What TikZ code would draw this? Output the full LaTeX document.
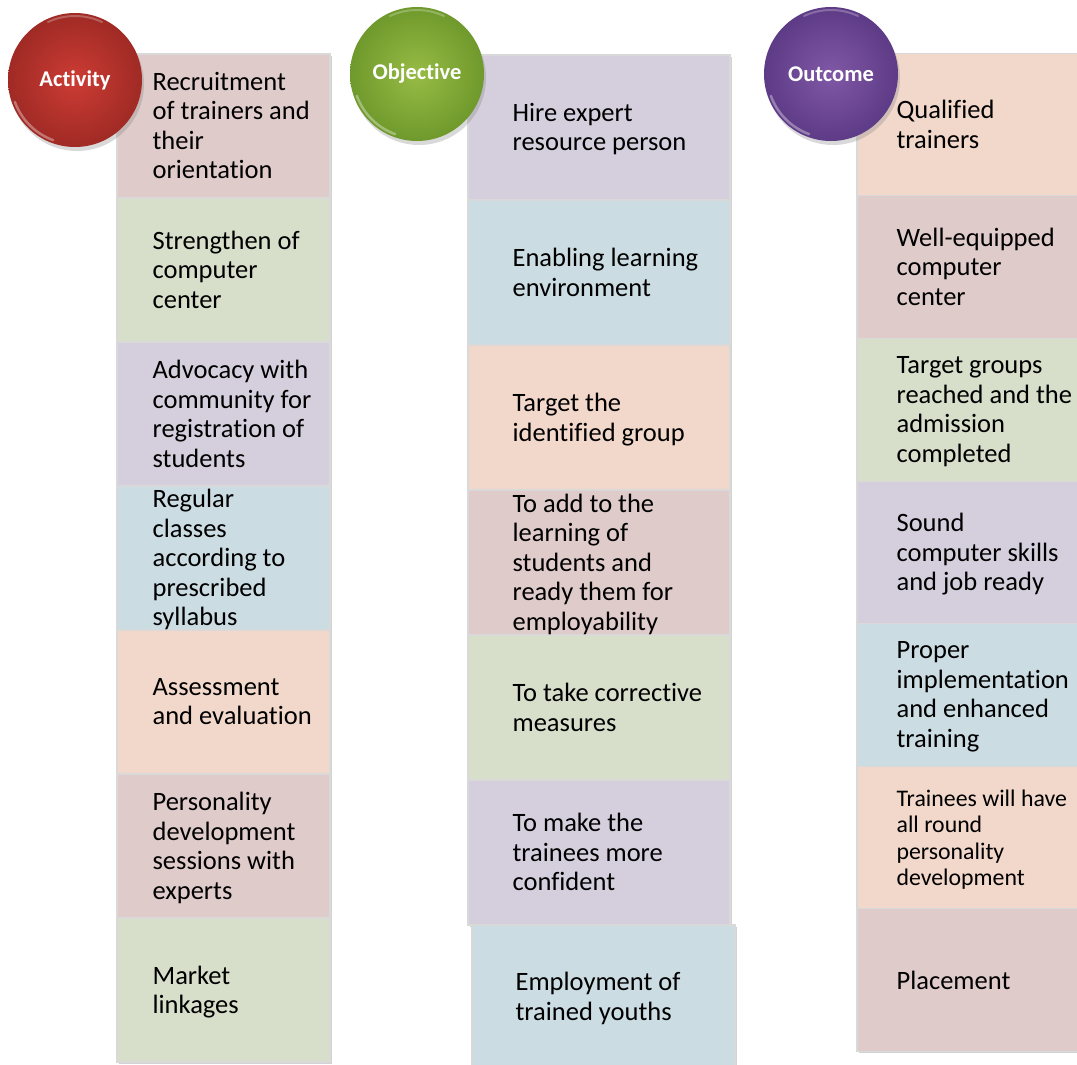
\documentclass[tikz,border=0pt]{standalone}
\usepackage{fontspec}
\setmainfont{Carlito}[Ligatures=NoCommon]
\usetikzlibrary{shadows}
\definecolor{cpink}{HTML}{E0CBCB}
\definecolor{cgreen}{HTML}{D7DFCB}
\definecolor{clav}{HTML}{D5CFDD}
\definecolor{cblue}{HTML}{CBDCE3}
\definecolor{cpeach}{HTML}{F2D7CB}
\definecolor{redin}{HTML}{CC3C34}
\definecolor{redout}{HTML}{A02A25}
\definecolor{grnin}{HTML}{97BC45}
\definecolor{grnout}{HTML}{6F992C}
\definecolor{purin}{HTML}{8058A6}
\definecolor{purout}{HTML}{5E3B86}
\tikzset{
  cell/.style={rectangle, draw=white!70!gray, line width=1.2pt, inner sep=0pt,
     drop shadow={shadow xshift=2pt, shadow yshift=-2pt, opacity=.35}},
  txt/.style={anchor=west, align=left, inner sep=0pt, text=black, yshift=-4pt,
     font=\fontsize{26.5}{29.5}\selectfont,
     execute at begin node=\strut, execute at end node=\strut},
  smalltxt/.style={txt, font=\fontsize{23.8}{26.5}\selectfont},
  badge/.style={circle, minimum size=134pt, inner sep=0pt, text=white,
     font=\fontsize{22.5}{26}\bfseries\selectfont,
     drop shadow={shadow xshift=2pt, shadow yshift=-4pt, opacity=.3}},
  gloss/.style={white, line width=2.5pt, opacity=.35, line cap=round}
}
\begin{document}
\begin{tikzpicture}[x=1pt,y=-1pt]
\useasboundingbox (0,0) rectangle (1077,1065);
% ---------- Activity column
\node[cell, fill=cpink,  minimum width=213pt, minimum height=144pt] (a1) at (223.5,126) {};
\node[cell, fill=cgreen, minimum width=213pt, minimum height=144pt] (a2) at (223.5,270) {};
\node[cell, fill=clav,   minimum width=213pt, minimum height=144pt] (a3) at (223.5,414) {};
\node[cell, fill=cblue,  minimum width=213pt, minimum height=144pt] (a4) at (223.5,558) {};
\node[cell, fill=cpeach, minimum width=213pt, minimum height=144pt] (a5) at (223.5,702) {};
\node[cell, fill=cpink,  minimum width=213pt, minimum height=144pt] (a6) at (223.5,846) {};
\node[cell, fill=cgreen, minimum width=213pt, minimum height=144pt] (a7) at (223.5,990) {};
\node[txt] (ta1) at ([xshift=36pt]a1.west) {Recruitment\\of trainers and\\their\\orientation};
\node[txt] (ta2) at ([xshift=36pt]a2.west) {Strengthen of\\computer\\center};
\node[txt] (ta3) at ([xshift=36pt]a3.west) {Advocacy with\\community for\\registration of\\students};
\node[txt] (ta4) at ([xshift=36pt]a4.west) {Regular\\classes\\according to\\prescribed\\syllabus};
\node[txt] (ta5) at ([xshift=36pt]a5.west) {Assessment\\and evaluation};
\node[txt] (ta6) at ([xshift=36pt]a6.west) {Personality\\development\\sessions with\\experts};
\node[txt] (ta7) at ([xshift=36pt]a7.west) {Market\\linkages};
% ---------- Objective column
\node[cell, fill=clav,   minimum width=262pt, minimum height=145pt] (o1) at (599,127.5) {};
\node[cell, fill=cblue,  minimum width=262pt, minimum height=145pt] (o2) at (599,272.5) {};
\node[cell, fill=cpeach, minimum width=262pt, minimum height=145pt] (o3) at (599,417.5) {};
\node[cell, fill=cpink,  minimum width=262pt, minimum height=145pt] (o4) at (599,562.5) {};
\node[cell, fill=cgreen, minimum width=262pt, minimum height=145pt] (o5) at (599,707.5) {};
\node[cell, fill=clav,   minimum width=262pt, minimum height=145pt] (o6) at (599,852.5) {};
\node[cell, fill=cblue,  minimum width=263pt, minimum height=143pt] (o7) at (603.5,996.5) {};
\node[txt] (to1) at ([xshift=45pt]o1.west) {Hire expert\\resource person};
\node[txt] (to2) at ([xshift=45pt]o2.west) {Enabling learning\\environment};
\node[txt] (to3) at ([xshift=45pt]o3.west) {Target the\\identified group};
\node[txt] (to4) at ([xshift=45pt]o4.west) {To add to the\\learning of\\students and\\ready them for\\employability};
\node[txt] (to5) at ([xshift=45pt]o5.west) {To take corrective\\measures};
\node[txt] (to6) at ([xshift=45pt]o6.west) {To make the\\trainees more\\confident};
\node[txt] (to7) at ([xshift=44pt]o7.west) {Employment of\\trained youths};
% ---------- Outcome column
\node[cell, fill=cpeach, minimum width=228pt, minimum height=142.7pt] (u1) at (971,124.5) {};
\node[cell, fill=cpink,  minimum width=228pt, minimum height=142.7pt] (u2) at (971,267) {};
\node[cell, fill=cgreen, minimum width=228pt, minimum height=142.7pt] (u3) at (971,410) {};
\node[cell, fill=clav,   minimum width=228pt, minimum height=142.7pt] (u4) at (971,552.5) {};
\node[cell, fill=cblue,  minimum width=228pt, minimum height=142.7pt] (u5) at (971,695) {};
\node[cell, fill=cpeach, minimum width=228pt, minimum height=142.7pt] (u6) at (971,837.5) {};
\node[cell, fill=cpink,  minimum width=228pt, minimum height=142.7pt] (u7) at (971,980) {};
\node[txt] (tu1) at ([xshift=40pt]u1.west) {Qualified\\trainers};
\node[txt] (tu2) at ([xshift=40pt]u2.west) {Well-equipped\\computer\\center};
\node[txt] (tu3) at ([xshift=40pt]u3.west) {Target groups\\reached and the\\admission\\completed};
\node[txt] (tu4) at ([xshift=40pt]u4.west) {Sound\\computer skills\\and job ready};
\node[txt] (tu5) at ([xshift=40pt]u5.west) {Proper\\implementation\\and enhanced\\training};
\node[smalltxt] (tu6) at ([xshift=40pt]u6.west) {Trainees will have\\all round\\personality\\development};
\node[txt] (tu7) at ([xshift=40pt]u7.west) {Placement};
% ---------- badges
\node[badge, inner color=redin, outer color=redout] (act) at (75,80) {Activity};
\node[badge, inner color=grnin, outer color=grnout] (obj) at (417,74) {Objective};
\node[badge, inner color=purin, outer color=purout] (out) at (831,74) {Outcome};
\foreach \b in {act,obj,out}{
  \draw[gloss] ([shift={(200:64pt)}]\b.center) arc[start angle=200, end angle=250, radius=64pt];
  \draw[gloss, opacity=.25, line width=2pt] ([shift={(65:64pt)}]\b.center) arc[start angle=65, end angle=115, radius=64pt];
}
\end{tikzpicture}
\end{document}
